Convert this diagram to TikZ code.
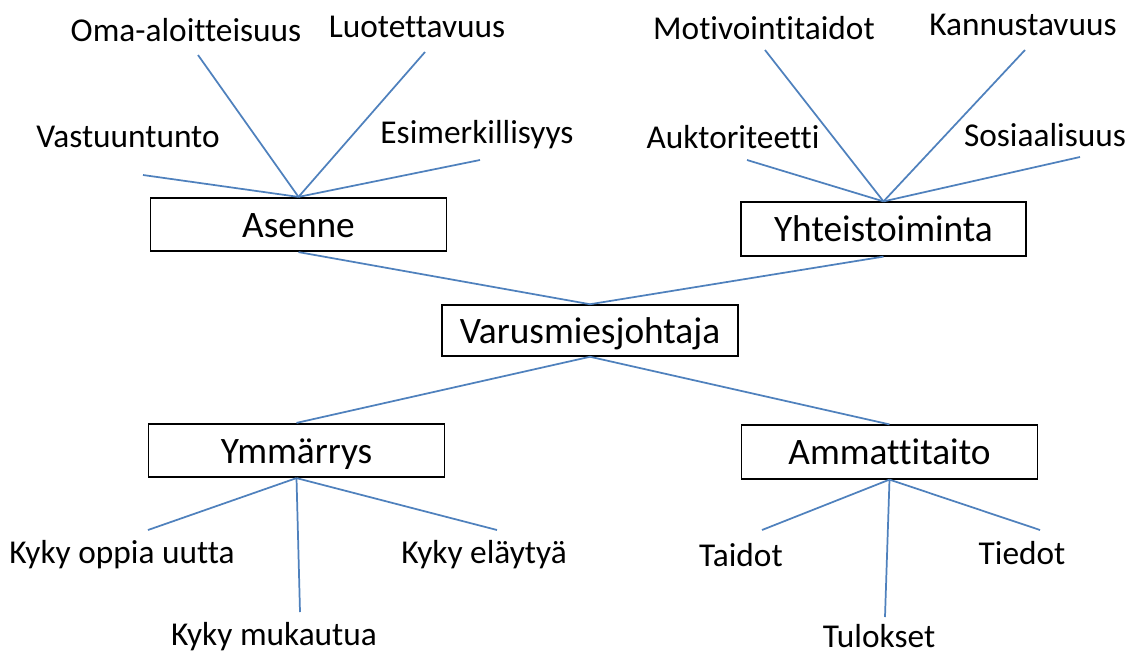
\documentclass[tikz,border=0pt]{standalone}
\usepackage{fontspec}
\setmainfont{Carlito}[Ligatures=NoCommon]
\definecolor{linkblue}{RGB}{79,129,189}
\begin{document}
\begin{tikzpicture}[x=0.75pt,y=-0.75pt,
  box/.style={draw=black,line width=1.4pt,minimum width=222pt,minimum height=40pt,inner sep=0pt,
    text height=20pt,text depth=1pt,font=\fontsize{28}{32}\selectfont},
  lbl/.style={inner sep=0pt,font=\fontsize{25}{28}\selectfont},
  link/.style={draw=linkblue,line width=1.3pt}]
\useasboundingbox (0,0) rectangle (1140,654);
\fill[white] (0,0) rectangle (1140,654);
% boxes
\node[box] (asenne) at (298.5,224.5) {Asenne};
\node[box,minimum width=214pt] (yht) at (883.5,229) {Yhteistoiminta};
\node[box,minimum height=38pt] (varus) at (590,330.5) {Varusmiesjohtaja};
\node[box] (ymm) at (296.5,450.5) {Ymmärrys};
\node[box] (amm) at (889.5,452) {Ammattitaito};
% labels
\node[lbl] (oma) at (186,30) {Oma-aloitteisuus};
\node[lbl] (luot) at (417,27) {Luotettavuus};
\node[lbl] (vast) at (128,137) {Vastuuntunto};
\node[lbl] (esim) at (477,135) {Esimerkillisyys};
\node[lbl] (moti) at (764,28) {Motivointitaidot};
\node[lbl] (kann) at (1023,25) {Kannustavuus};
\node[lbl] (aukt) at (733,137) {Auktoriteetti};
\node[lbl] (sosi) at (1045,135) {Sosiaalisuus};
\node[lbl] (oppia) at (122,555) {Kyky oppia uutta};
\node[lbl] (elay) at (484,555) {Kyky eläytyä};
\node[lbl] (muk) at (274,637) {Kyky mukautua};
\node[lbl] (taid) at (741,555) {Taidot};
\node[lbl] (tied) at (1022,553) {Tiedot};
\node[lbl] (tulo) at (879,636) {Tulokset};
% free ends of connectors
\coordinate (cVast) at (143,175);
\coordinate (cOma) at (198,55);
\coordinate (cLuot) at (425,52);
\coordinate (cEsim) at (480,160);
\coordinate (cAukt) at (747,160);
\coordinate (cMoti) at (765,50);
\coordinate (cKann) at (1025,50);
\coordinate (cSosi) at (1080,157);
\coordinate (cOppia) at (148,530);
\coordinate (cMuk) at (300,612);
\coordinate (cElay) at (497,530);
\coordinate (cTaid) at (762,530);
\coordinate (cTulo) at (885,617);
\coordinate (cTied) at (1040,530);
% connectors
\foreach \e in {cVast,cOma,cLuot,cEsim} \draw[link] (asenne.north) -- (\e);
\foreach \e in {cAukt,cMoti,cKann,cSosi} \draw[link] (yht.north) -- (\e);
\draw[link] (asenne.south) -- (varus.north);
\draw[link] (yht.south) -- (varus.north);
\draw[link] (varus.south) -- (ymm.north);
\draw[link] (varus.south) -- (amm.north);
\foreach \e in {cOppia,cMuk,cElay} \draw[link] (ymm.south) -- (\e);
\foreach \e in {cTaid,cTulo,cTied} \draw[link] (amm.south) -- (\e);
\end{tikzpicture}
\end{document}
